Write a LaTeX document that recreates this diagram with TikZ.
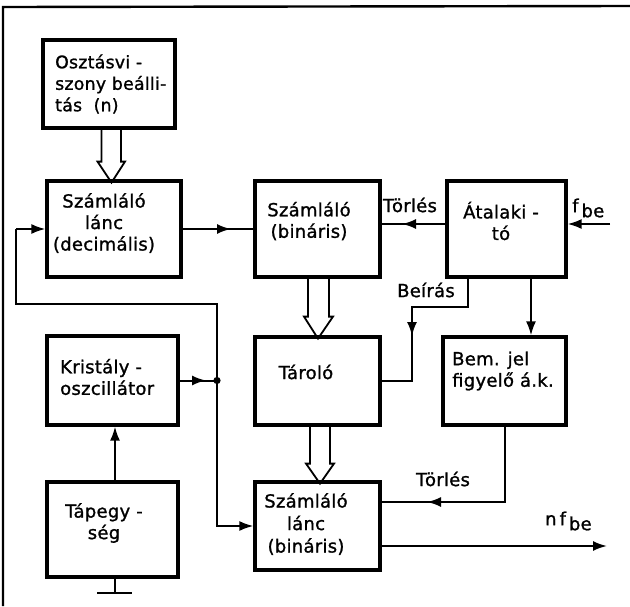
\documentclass[tikz,border=0pt]{standalone}
\usepackage{fontspec}
\setmainfont{DejaVu Sans}[LetterSpace=1.5,FakeBold=1.2]
\usetikzlibrary{arrows.meta,calc}
\begin{document}
\begin{tikzpicture}[x=1pt,y=-1pt,
  box/.style={draw,line width=3.2pt,inner sep=0pt},
  txt/.style={inner sep=0pt,font=\fontsize{18}{21.5}\selectfont},
  lbl/.style={inner sep=0pt,font=\fontsize{18}{20}\selectfont},
  conn/.style={line width=2pt},
  arr/.style={conn,-{Latex[length=14pt,width=10pt]}},
  hollow/.style={line width=1.8pt,line join=miter}
]
\useasboundingbox (0,0) rectangle (630,606);
% frame
\draw[line width=2.4pt] (3,606) -- (3,7) -- (630,6);

% boxes
\node[box,minimum width=132pt,minimum height=88pt] (osz) at (109,84) {};
\node[box,minimum width=134pt,minimum height=96pt] (dec) at (114,229) {};
\node[box,minimum width=125pt,minimum height=96pt] (bin) at (317.5,229) {};
\node[box,minimum width=119pt,minimum height=96pt] (ata) at (506.5,229) {};
\node[box,minimum width=131pt,minimum height=89pt] (kri) at (112.5,380.5) {};
\node[box,minimum width=131pt,minimum height=95pt] (tap) at (112.5,529.5) {};
\node[box,minimum width=125pt,minimum height=88pt] (tar) at (317.5,381) {};
\node[box,minimum width=123pt,minimum height=88pt] (bem) at (504.5,381) {};
\node[box,minimum width=125pt,minimum height=88pt] (sbl) at (317.5,526) {};

% texts
\node[txt,align=left,anchor=west,font=\fontsize{17.3}{21.5}\selectfont] (toz) at (55,84) {Osztásvi -\\szony beálli-\\tás \ (n)};
\node[txt,align=center] (tdec) at (104,223) {Számláló\\lánc\\(decimális)};
\node[txt,align=center] (tbin) at (309,221) {Számláló\\(bináris)};
\node[txt,align=center] (tata) at (501,221) {Átalaki -\\tó};
\node[txt,align=left,anchor=west] (tkri) at (60,377) {Kristály -\\oszcillátor};
\node[txt,align=center] (ttap) at (104,523) {Tápegy -\\ség};
\node[txt] (ttar) at (306,372) {Tároló};
\node[txt,align=left,anchor=west] (tbem) at (452,371) {Bem. jel\\figyelő á.k.};
\node[txt,align=center,font=\fontsize{18}{22.5}\selectfont] (tsbl) at (306,524) {Számláló\\lánc\\(bináris)};

% labels
\node[lbl] (ltor1) at (410,205) {Törlés};
\node[lbl] (lbei) at (426,290) {Beírás};
\node[lbl] (ltor2) at (443,479) {Törlés};
\node[lbl,anchor=west] (lfbe) at (572,208) {f\,\raisebox{-5pt}{be}};
\node[lbl,anchor=west] (lnf) at (545,521) {n\,f\,\raisebox{-5pt}{be}};

% hollow bus arrows
\draw[hollow] ($(osz.south)+(-7.5,0)$) -- ++(0,32) -- ++(-4,0) -- ($(osz.south)+(2.5,53)$) -- ($(osz.south)+(16,32)$) -- ++(-4,0) -- ($(osz.south)+(12,0)$);
\draw[hollow] ($(bin.south)+(-9.5,0)$) -- ++(0,38) -- ++(-4,0) -- ($(bin.south)+(0.5,60)$) -- ($(bin.south)+(15.5,38)$) -- ++(-4,0) -- ($(bin.south)+(11.5,0)$);
\draw[hollow] ($(tar.south)+(-7.5,0)$) -- ++(0,37) -- ++(-4,0) -- ($(tar.south)+(2.5,57)$) -- ($(tar.south)+(16.5,37)$) -- ++(-4,0) -- ($(tar.south)+(12.5,0)$);

% coordinates
\coordinate (dot) at (217,380.5);
\coordinate (fbl) at (16,304);
\coordinate (fin) at (610,224);
\coordinate (bw1) at (468,307);
\coordinate (bw2) at (412,307);
\coordinate (bm1) at (505,502);
\coordinate (outp) at (607,546);
\coordinate (gnd) at (115,593);

% dec -> bin (mid arrow)
\draw[conn] (dec.east) -- (bin.west);
\draw[arr] (dec.east) -- (231,229);
% ata -> bin (Törlés)
\draw[conn] (ata.west |- 0,224) -- (bin.east |- 0,224);
\draw[arr] (ata.west |- 0,224) -- (402,224);
% f_be input
\draw[arr] (fin) -- (ata.east |- fin);
% crystal -> dot
\draw[conn] (kri.east) -- (dot);
\draw[arr] (kri.east) -- (206,380.5);
\fill (dot) circle (3.6pt);
% feedback to dec
\draw[conn] (dot) -- (dot |- fbl) -- (fbl) -- (fbl |- dec.west);
\draw[arr] (fbl |- dec.west) -- (dec.west);
% dot -> sbl
\draw[arr] (dot) |- (sbl.west);
% tap -> kri
\draw[arr] (tap.north -| gnd) -- (kri.south -| gnd);
% ground
\draw[conn] (tap.south -| gnd) -- (gnd);
\draw[line width=2.8pt] ($(gnd)+(-18,0)$) -- ($(gnd)+(17,0)$);
% Beírás
\draw[conn] (ata.south -| bw1) -- (bw1) -- (bw2) |- (tar.east);
\draw[arr] (bw2) -- (412,336);
% ata -> bem
\draw[arr] (ata.south -| 531,0) -- (bem.north -| 531,0);
% bem -> sbl (Törlés)
\draw[conn] (bem.south -| bm1) -- (bm1) -- (sbl.east |- bm1);
\draw[arr] (bm1) -- (427,502);
% output
\draw[arr] (sbl.east |- outp) -- (outp);
\end{tikzpicture}
\end{document}
